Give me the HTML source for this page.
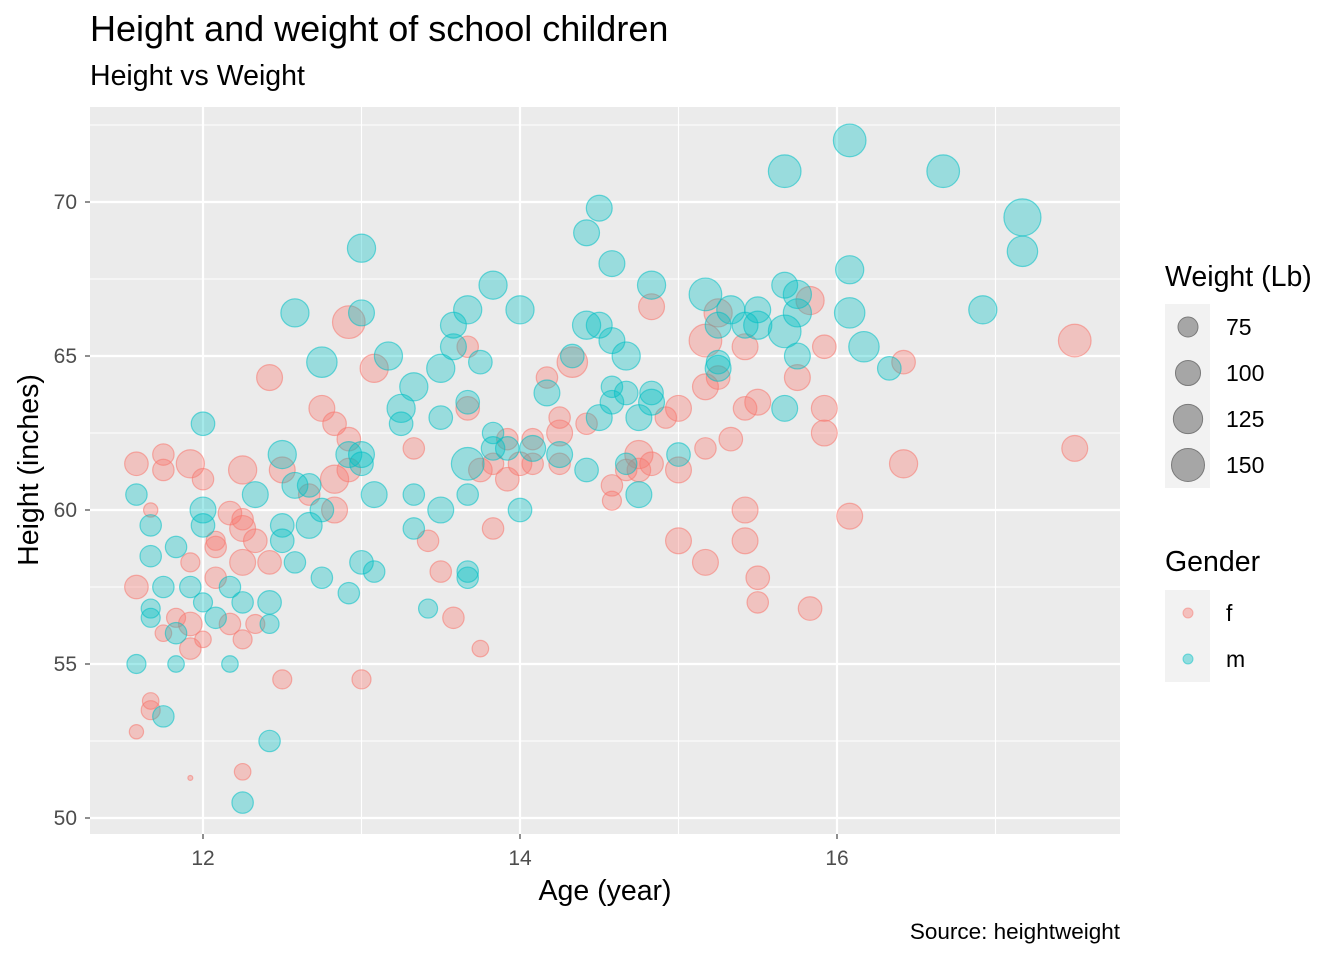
<!DOCTYPE html>
<html><head><meta charset="utf-8">
<style>
body{margin:0;background:#fff;}
svg{display:block;font-family:"Liberation Sans",Arial,sans-serif;}
</style></head>
<body>
<svg id="chart" width="1344" height="960" viewBox="0 0 1344 960">
<rect x="0" y="0" width="1344" height="960" fill="#fff"/>
<text x="90" y="41" font-size="36" fill="#000">Height and weight of school children</text>
<text x="90" y="85" font-size="28.5" fill="#000">Height vs Weight</text>
<rect x="90" y="107" width="1030" height="727" fill="#EBEBEB"/>
<g id="grid"></g>
<g id="points"></g>
<g id="axes"></g>
<text x="605" y="900" font-size="28.5" text-anchor="middle" fill="#000">Age (year)</text>
<text transform="translate(38,470) rotate(-90)" font-size="28.5" text-anchor="middle" fill="#000">Height (inches)</text>
<text x="1120" y="939" font-size="22.5" text-anchor="end" fill="#000">Source: heightweight</text>
<g>
<text x="1165" y="286" font-size="28.5" fill="#000">Weight (Lb)</text>
<rect x="1165" y="304" width="45" height="184" fill="#F2F2F2"/>
<g id="sizeKeys"></g>
</g>
<g>
<text x="1165" y="571" font-size="28.5" fill="#000">Gender</text>
<rect x="1165" y="590" width="45" height="92" fill="#F2F2F2"/>
<circle cx="1188" cy="613" r="5" fill="#F8766D" fill-opacity="0.4" stroke="#F8766D" stroke-opacity="0.5"/>
<text x="1226" y="621" font-size="23" fill="#000">f</text>
<circle cx="1188" cy="659" r="5" fill="#00BFC4" fill-opacity="0.4" stroke="#00BFC4" stroke-opacity="0.5"/>
<text x="1226" y="667" font-size="23" fill="#000">m</text>
</g>
</svg>
<script>
const fAge=[11.58,11.67,11.75,11.75,11.92,12.0,11.58,11.67,11.67,11.58,11.92,11.83,11.75,11.92,11.92,12.0,11.92,12.08,12.08,12.08,12.17,12.25,12.25,12.25,12.25,12.33,12.17,12.25,12.33,12.25,12.42,12.42,12.5,12.5,12.67,12.75,12.83,12.83,12.83,12.92,12.92,12.92,13.0,13.08,13.33,13.42,13.5,13.58,13.67,13.67,13.75,13.75,13.83,13.83,13.92,13.92,14.0,14.08,14.08,14.17,14.25,14.25,14.25,14.33,14.42,14.58,14.58,14.75,14.75,14.67,14.83,14.83,14.92,15.0,15.0,15.0,15.17,15.17,15.17,15.17,15.25,15.25,15.33,15.42,15.42,15.42,15.42,15.5,15.5,15.5,15.75,15.83,15.83,15.92,15.92,15.92,16.08,16.42,16.42,17.5,17.5];
const fHeight=[61.5,60.0,61.8,61.3,61.5,61.0,57.5,53.8,53.5,52.8,51.3,56.5,56.0,56.3,55.5,55.8,58.3,58.8,59.0,57.8,59.9,59.7,59.4,61.3,58.3,59.0,56.3,55.8,56.3,51.5,64.3,58.3,61.3,54.5,60.5,63.3,62.8,61.0,60.0,66.1,62.3,61.3,54.5,64.6,62.0,59.0,58.0,56.5,65.3,63.3,55.5,61.3,59.4,61.5,62.3,61.0,61.5,62.3,61.5,64.3,63.0,62.5,61.5,64.8,62.8,60.8,60.3,61.8,61.3,61.3,61.5,66.6,63.0,63.3,61.3,59.0,65.5,64.0,62.0,58.3,64.3,66.4,62.3,65.3,63.3,60.0,59.0,63.5,57.8,57.0,64.3,66.8,56.8,65.3,63.3,62.5,59.8,64.8,61.5,65.5,62.0];
const fWeight=[92,52,81,81,119,81,92,60,70,52,30,70,60,92,81,60,70,81,70,81,92,81,105,119,105,92,81,70,70,60,105,92,105,70,81,105,92,119,105,150,92,92,70,119,81,81,81,81,81,92,60,92,81,81,81,92,92,81,81,81,81,105,81,134,81,81,70,119,92,81,92,105,81,105,105,105,150,105,81,105,92,119,92,105,92,105,105,105,92,81,105,119,92,92,105,105,105,92,119,150,105];
const mAge=[11.58,11.58,11.67,11.67,11.67,11.67,11.75,11.75,11.83,11.83,11.83,11.92,12.0,12.0,12.0,12.0,12.08,12.17,12.17,12.25,12.25,12.33,12.42,12.42,12.42,12.5,12.5,12.5,12.58,12.58,12.58,12.67,12.67,12.75,12.75,12.75,12.92,12.92,13.0,13.0,13.0,13.0,13.0,13.08,13.08,13.17,13.25,13.25,13.33,13.33,13.33,13.42,13.5,13.5,13.5,13.58,13.58,13.67,13.67,13.67,13.67,13.67,13.67,13.75,13.83,13.83,13.83,13.92,14.0,14.0,14.08,14.17,14.25,14.33,14.42,14.42,14.42,14.5,14.5,14.5,14.58,14.58,14.58,14.58,14.67,14.67,14.67,14.75,14.75,14.83,14.83,14.83,15.0,15.17,15.25,15.25,15.25,15.33,15.42,15.5,15.5,15.67,15.67,15.67,15.67,15.75,15.75,15.75,16.08,16.08,16.08,16.17,16.33,16.67,16.92,17.17,17.17];
const mHeight=[60.5,55.0,59.5,58.5,56.8,56.5,57.5,53.3,58.8,56.0,55.0,57.5,62.8,60.0,59.5,57.0,56.5,57.5,55.0,57.0,50.5,60.5,57.0,56.3,52.5,61.8,59.5,59.0,60.8,58.3,66.4,60.8,59.5,64.8,60.0,57.8,61.8,57.3,68.5,66.4,61.8,61.5,58.3,60.5,58.0,65.0,63.3,62.8,64.0,60.5,59.4,56.8,64.6,63.0,60.0,66.0,65.3,66.5,63.5,61.5,60.5,58.0,57.8,64.8,67.3,62.5,62.0,62.0,66.5,60.0,62.0,63.8,61.8,65.0,69.0,66.0,61.3,69.8,66.0,63.0,68.0,65.5,64.0,63.5,65.0,63.8,61.5,63.0,60.5,67.3,63.8,63.5,61.8,67.0,66.0,64.8,64.6,66.5,66.0,66.5,66.0,71.0,67.3,65.8,63.3,67.0,66.4,65.0,72.0,67.8,66.4,65.3,64.6,71.0,66.5,69.5,68.4];
const mWeight=[81,70,81,81,70,70,81,81,81,81,60,81,92,105,92,70,81,81,60,81,81,105,92,70,81,119,92,92,105,81,119,92,105,134,92,81,105,81,119,105,105,92,92,105,81,119,119,92,119,81,81,70,119,92,105,105,105,119,92,150,81,81,81,92,119,81,92,92,119,92,105,105,105,92,105,119,92,105,105,105,105,105,81,92,119,92,81,105,105,119,92,105,92,150,105,92,105,119,105,105,119,150,105,150,105,119,119,105,150,119,134,134,92,150,119,185,134];
const xTicks=[12,14,16];
const xMinor=[13,15,17];
const yTicks=[50,55,60,65,70];
const yMinor=[52.5,57.5,62.5,67.5,72.5];
const sizeBreaks=[75,100,125,150];

const NS="http://www.w3.org/2000/svg";
const PX0=90,PX1=1120,PY0=107,PY1=834;
function xs(a){return 203+(a-12)*158.5;}
function ys(h){return 202-(h-70)*30.8;}
function rs(w){return Math.sqrt(Math.max(2.2*(w-29),6));}
function mk(tag,attrs,parent){const e=document.createElementNS(NS,tag);for(const k in attrs)e.setAttribute(k,attrs[k]);parent.appendChild(e);return e;}
const grid=document.getElementById('grid'),axes=document.getElementById('axes'),pts=document.getElementById('points');
xMinor.forEach(v=>{const l=mk('line',{x1:xs(v),x2:xs(v),y1:PY0,y2:PY1,stroke:'#fff','stroke-width':1.1},grid);

});
yMinor.forEach(v=>{const l=mk('line',{x1:PX0,x2:PX1,y1:ys(v),y2:ys(v),stroke:'#fff','stroke-width':1.1},grid);

});
xTicks.forEach(v=>{const l=mk('line',{x1:xs(v),x2:xs(v),y1:PY0,y2:PY1,stroke:'#fff','stroke-width':2.2},grid);


const t=mk('line',{x1:xs(v),x2:xs(v),y1:PY1,y2:PY1+5,stroke:'#333','stroke-width':1.1},axes);


const tx=mk('text',{x:xs(v),y:865,'font-size':21,'text-anchor':'middle',fill:'#4D4D4D'},axes);tx.textContent=v;

});
yTicks.forEach(v=>{const l=mk('line',{x1:PX0,x2:PX1,y1:ys(v),y2:ys(v),stroke:'#fff','stroke-width':2.2},grid);


const t=mk('line',{x1:PX0-5,x2:PX0,y1:ys(v),y2:ys(v),stroke:'#333','stroke-width':1.1},axes);


const tx=mk('text',{x:77,y:ys(v)+7,'font-size':21,'text-anchor':'end',fill:'#4D4D4D'},axes);tx.textContent=v;

});
function drawSeries(age,h,w,col,name){
 for(let i=0;i<age.length;i++){
  const c=mk('circle',{cx:xs(age[i]),cy:ys(h[i]),r:rs(w[i]),fill:col,'fill-opacity':0.35,stroke:col,'stroke-opacity':0.55,'stroke-width':1.2},pts);
  
  
 }
}
drawSeries(fAge,fHeight,fWeight,'#F8766D','point-female');
drawSeries(mAge,mHeight,mWeight,'#00BFC4','point-male');
const sk=document.getElementById('sizeKeys');
sizeBreaks.forEach((b,i)=>{const y=327+i*46;
 const c=mk('circle',{cx:1188,cy:y,r:Math.sqrt(2.39*(b-29))-0.5,fill:'#A6A6A6',stroke:'#7a7a7a','stroke-width':1},sk);
 
 
 const t=mk('text',{x:1226,y:y+8,'font-size':23,fill:'#000'},sk);t.textContent=b;
 
 
});
</script>
</body></html>
